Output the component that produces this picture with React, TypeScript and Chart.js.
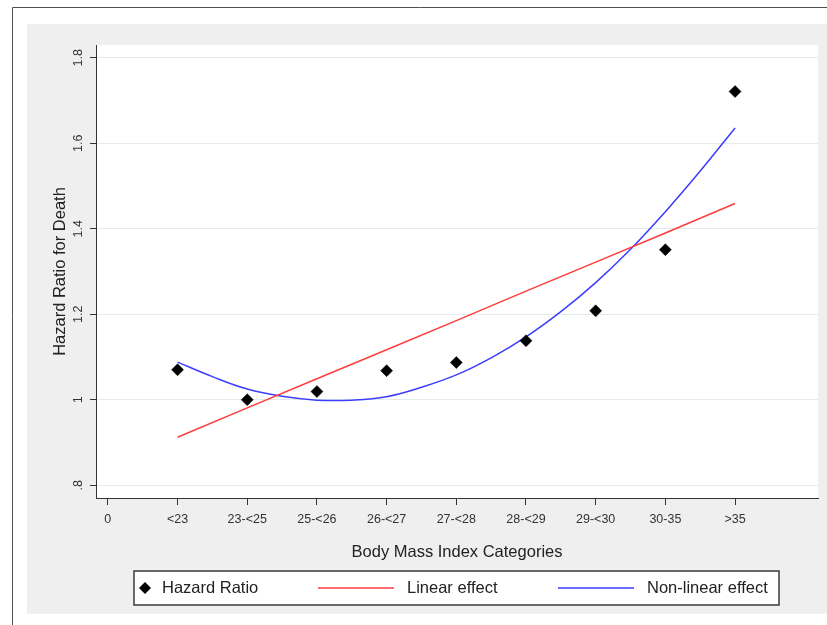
import React, { useEffect, useRef } from "react";
import { Chart, registerables } from "chart.js";

Chart.register(...registerables);

// ---- data ----
const X_TICK_LABELS = ["0", "<23", "23-<25", "25-<26", "26-<27", "27-<28", "28-<29", "29-<30", "30-35", ">35"];
const BMI_CATEGORIES = ["<23", "23-<25", "25-<26", "26-<27", "27-<28", "28-<29", "29-<30", "30-35", ">35"];
const CATEGORY_POSITIONS = [1, 2, 3, 4, 5, 6, 7, 8, 9];
const HAZARD_RATIO = [1.07, 1.0, 1.019, 1.068, 1.087, 1.138, 1.208, 1.351, 1.721];
const LINEAR_EFFECT = [0.912, 0.981, 1.049, 1.117, 1.185, 1.254, 1.322, 1.39, 1.459];
const NONLINEAR_X = [1, 1.5, 2, 2.5, 3, 3.5, 4, 4.5, 5, 5.5, 6, 6.5, 7, 7.5, 8, 8.5, 9];
const NONLINEAR_EFFECT = [1.088, 1.054, 1.025, 1.008, 0.999, 0.999, 1.007, 1.029, 1.058, 1.098, 1.147, 1.206, 1.274, 1.352, 1.44, 1.535, 1.636];
const Y_TICKS = [0.8, 1.0, 1.2, 1.4, 1.6, 1.8];
const Y_TICK_LABELS = [".8", "1", "1.2", "1.4", "1.6", "1.8"];
const SERIES_LABELS = ["Hazard Ratio", "Linear effect", "Non-linear effect"];

const FONT = '"Liberation Sans", Arial, Helvetica, sans-serif';
const RED = "#ff3c3c";
const BLUE = "#3c3cff";

const backgroundPlugin = {
  id: "stataBackground",
  beforeDraw(chart: any) {
    const { ctx, width, height, chartArea } = chart;
    ctx.save();
    ctx.fillStyle = "#ffffff";
    ctx.fillRect(0, 0, width, height);
    ctx.strokeStyle = "#505050";
    ctx.lineWidth = 1;
    ctx.beginPath();
    ctx.moveTo(12.5, height);
    ctx.lineTo(12.5, 7.5);
    ctx.lineTo(width, 7.5);
    ctx.stroke();
    ctx.fillStyle = "#efefef";
    ctx.fillRect(27, 24, width - 27, 590);
    ctx.fillStyle = "#ffffff";
    ctx.fillRect(chartArea.left, chartArea.top, chartArea.right - chartArea.left, chartArea.bottom - chartArea.top);
    ctx.restore();
  },
};

const legendPlugin = {
  id: "stataLegend",
  afterDraw(chart: any) {
    const { ctx } = chart;
    const ds = chart.data.datasets;
    const cy = 588;
    ctx.save();
    ctx.fillStyle = "#ffffff";
    ctx.fillRect(134, 571, 645, 34);
    ctx.strokeStyle = "#3a3a3a";
    ctx.lineWidth = 1.5;
    ctx.strokeRect(134, 571, 645, 34);

    // diamond marker
    ctx.fillStyle = ds[0].pointBackgroundColor;
    ctx.beginPath();
    ctx.moveTo(145, cy - 6);
    ctx.lineTo(151, cy);
    ctx.lineTo(145, cy + 6);
    ctx.lineTo(139, cy);
    ctx.closePath();
    ctx.fill();

    // line keys
    ctx.lineWidth = 1.5;
    ctx.strokeStyle = ds[1].borderColor;
    ctx.beginPath();
    ctx.moveTo(318, cy);
    ctx.lineTo(394, cy);
    ctx.stroke();
    ctx.strokeStyle = ds[2].borderColor;
    ctx.beginPath();
    ctx.moveTo(558, cy);
    ctx.lineTo(634, cy);
    ctx.stroke();

    ctx.fillStyle = "#222222";
    ctx.font = `16.5px ${FONT}`;
    ctx.textBaseline = "middle";
    ctx.textAlign = "left";
    ctx.fillText(ds[0].label, 162, cy);
    ctx.fillText(ds[1].label, 407, cy);
    ctx.fillText(ds[2].label, 647, cy);
    ctx.restore();
  },
};

export default function App() {
  const canvasRef = useRef<HTMLCanvasElement | null>(null);

  useEffect(() => {
    document.body.style.margin = "0";
    document.body.style.overflow = "hidden";
    const canvas = canvasRef.current;
    if (!canvas) return;

    const chart = new Chart(canvas, {
      type: "line",
      data: {
        datasets: [
          {
            label: SERIES_LABELS[0],
            data: CATEGORY_POSITIONS.map((x, i) => ({ x, y: HAZARD_RATIO[i] })),
            showLine: false,
            pointStyle: "rectRot",
            pointRadius: 6,
            pointBackgroundColor: "#000000",
            pointBorderColor: "#000000",
            pointBorderWidth: 0.5,
          },
          {
            label: SERIES_LABELS[1],
            data: CATEGORY_POSITIONS.map((x, i) => ({ x, y: LINEAR_EFFECT[i] })),
            borderColor: RED,
            borderWidth: 1.5,
            pointRadius: 0,
            tension: 0,
            fill: false,
          },
          {
            label: SERIES_LABELS[2],
            data: NONLINEAR_X.map((x, i) => ({ x, y: NONLINEAR_EFFECT[i] })),
            borderColor: BLUE,
            borderWidth: 1.5,
            pointRadius: 0,
            tension: 0.4,
            fill: false,
          },
        ],
      } as any,
      options: {
        animation: false,
        responsive: false,
        maintainAspectRatio: false,
        layout: { padding: { left: 51, top: 45, right: 9, bottom: 63 } },
        plugins: {
          legend: { display: false },
          tooltip: { enabled: false },
        },
        scales: {
          x: {
            type: "linear",
            min: -0.17,
            max: 10.19,
            afterBuildTicks: (s: any) => {
              s.ticks = X_TICK_LABELS.map((_, i) => ({ value: i }));
            },
            afterFit: (s: any) => {
              s.height = 64;
            },
            grid: {
              drawOnChartArea: false,
              drawTicks: true,
              tickLength: 7,
              tickColor: "#333333",
              tickWidth: 1,
            },
            border: { color: "#333333", width: 1 },
            ticks: {
              callback: (_v: any, i: number) => X_TICK_LABELS[i],
              autoSkip: false,
              maxRotation: 0,
              minRotation: 0,
              padding: 7,
              color: "#333333",
              font: { family: FONT, size: 12.5 },
            },
            title: {
              display: true,
              text: "Body Mass Index Categories",
              color: "#222222",
              padding: 0,
              font: { family: FONT, size: 16.5 },
            },
          },
          y: {
            type: "linear",
            min: 0.77,
            max: 1.83,
            afterBuildTicks: (s: any) => {
              s.ticks = Y_TICKS.map((v) => ({ value: v }));
            },
            afterFit: (s: any) => {
              s.width = 45;
            },
            grid: {
              color: "#e2ecee",
              lineWidth: 1,
              drawTicks: true,
              tickLength: 6,
              tickColor: "#333333",
              tickWidth: 1,
            },
            border: { color: "#333333", width: 1 },
            ticks: {
              callback: (_v: any, i: number) => Y_TICK_LABELS[i],
              autoSkip: false,
              minRotation: 90,
              maxRotation: 90,
              crossAlign: "center",
              padding: 3,
              color: "#333333",
              font: { family: FONT, size: 12.5 },
            },
            title: {
              display: true,
              text: "Hazard Ratio for Death",
              color: "#222222",
              padding: 0,
              font: { family: FONT, size: 16.5 },
            },
          },
        },
      } as any,
      plugins: [backgroundPlugin, legendPlugin],
    });

    return () => {
      chart.destroy();
    };
  }, []);

  return (
    <div style={{ width: 827, height: 625 }}>
      <canvas ref={canvasRef} width={827} height={625} style={{ display: "block" }} />
    </div>
  );
}
